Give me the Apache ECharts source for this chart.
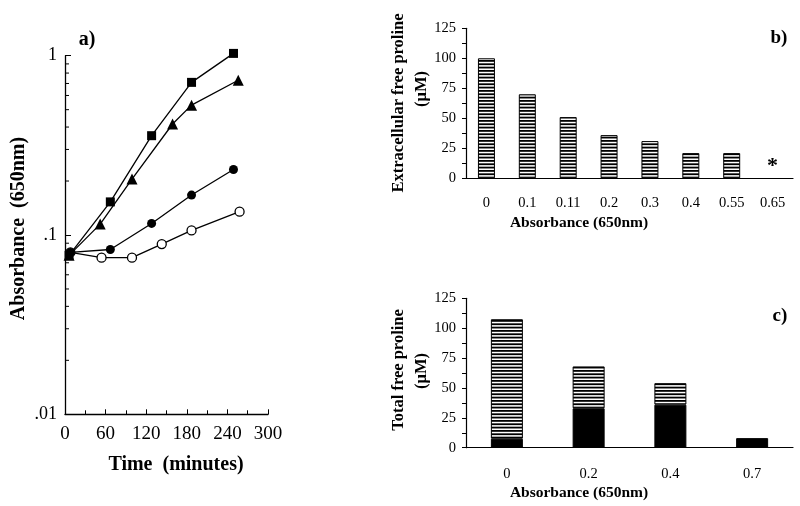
<!DOCTYPE html>
<html><head><meta charset="utf-8">
<script src="https://cdn.jsdelivr.net/npm/echarts@6/dist/echarts.min.js"></script>
<style>html,body{margin:0;padding:0;background:#fff}#c{width:800px;height:506px}</style>
</head><body><div id="c"></div>
<script>
// Panel a) growth curves (time in minutes, absorbance 650nm)
const squareTime = [6, 67, 128, 187, 249];
const squareVals = [0.077, 0.153, 0.358, 0.71, 1.03];
const triangleTime = [6, 52, 99, 159, 187, 256];
const triangleVals = [0.077, 0.115, 0.205, 0.416, 0.53, 0.73];
const dotTime = [8, 67, 128, 187, 249];
const dotVals = [0.08, 0.083, 0.116, 0.167, 0.232];
const openTime = [8, 54, 99, 143, 187, 258];
const openVals = [0.08, 0.0747, 0.0747, 0.089, 0.106, 0.135];
const logMinorTicks = [0.02,0.03,0.04,0.05,0.06,0.07,0.08,0.09,0.2,0.3,0.4,0.5,0.6,0.7,0.8,0.9];

// Panel b) extracellular free proline
const bCats = ['0','0.1','0.11','0.2','0.3','0.4','0.55','0.65'];
const bVals = [100, 70, 51, 36, 31, 21, 21, 0];

// Panel c) total free proline (solid + striped stack)
const cCats = ['0','0.2','0.4','0.7'];
const cSolid = [7.5, 33, 36, 8];
const cStriped = [100, 35, 18, 0];

const FONT = 'Liberation Serif';

function stripes(){
  const cv = document.createElement('canvas');
  cv.width = 8; cv.height = 10;
  const g = cv.getContext('2d');
  g.fillStyle = '#fff'; g.fillRect(0,0,8,10);
  g.fillStyle = '#000';
  g.fillRect(0,0,8,1.8);
  g.fillRect(0,3.33,8,1.8);
  g.fillRect(0,6.67,8,1.8);
  return {image: cv, repeat: 'repeat'};
}
const pat = stripes();

const zip = (a,b) => a.map((x,i)=>[x,b[i]]);
const lineStyle = {color:'#000', width:1.3};

const chart = echarts.init(document.getElementById('c'), null, {renderer:'canvas'});
chart.setOption({
  animation:false,
  backgroundColor:'#fff',
  textStyle:{fontFamily:FONT, color:'#000'},
  grid:[
    {left:65, top:55.7, width:203, height:358.6},
    {left:466, top:28.3, width:327, height:150},
    {left:466, top:298.3, width:327, height:149.4}
  ],
  xAxis:[
    {gridIndex:0, type:'value', min:0, max:300, interval:60,
     axisLine:{lineStyle:{color:'#000', width:1.3}},
     axisTick:{inside:true, length:5, lineStyle:{color:'#000'}},
     minorTick:{show:true, splitNumber:2, length:4, lineStyle:{color:'#000'}},
     splitLine:{show:false}, minorSplitLine:{show:false},
     axisLabel:{color:'#000', fontFamily:FONT, fontSize:19, margin:10}},
    {gridIndex:1, type:'category', data:bCats,
     axisLine:{lineStyle:{color:'#000', width:1.2}},
     axisTick:{length:4, lineStyle:{color:'#000'}},
     axisLabel:{color:'#000', fontFamily:FONT, fontSize:14.5, margin:17}},
    {gridIndex:2, type:'category', data:cCats,
     axisLine:{lineStyle:{color:'#000', width:1.2}},
     axisTick:{length:4, lineStyle:{color:'#000'}},
     axisLabel:{color:'#000', fontFamily:FONT, fontSize:14.5, margin:19}}
  ],
  yAxis:[
    {gridIndex:0, type:'log', min:0.01, max:1, logBase:10,
     axisLine:{show:true, lineStyle:{color:'#000', width:1.3}},
     axisTick:{show:true, inside:true, length:6, lineStyle:{color:'#000'}},
     splitLine:{show:false},
     axisLabel:{color:'#000', fontFamily:FONT, fontSize:18, margin:8,
       formatter:v=>{const e=Math.round(Math.log10(v)); return e===0?'1':(e===-1?'.1':'.01');}}},
    {gridIndex:1, type:'value', min:0, max:125, interval:25,
     axisLine:{show:true, lineStyle:{color:'#000', width:1.2}},
     axisTick:{show:true, length:4, lineStyle:{color:'#000'}},
     minorTick:{show:true, splitNumber:2, length:4, lineStyle:{color:'#000'}},
     splitLine:{show:false}, minorSplitLine:{show:false},
     axisLabel:{color:'#000', fontFamily:FONT, fontSize:14.5, margin:10}},
    {gridIndex:2, type:'value', min:0, max:125, interval:25,
     axisLine:{show:true, lineStyle:{color:'#000', width:1.2}},
     axisTick:{show:true, length:4, lineStyle:{color:'#000'}},
     minorTick:{show:true, splitNumber:2, length:4, lineStyle:{color:'#000'}},
     splitLine:{show:false}, minorSplitLine:{show:false},
     axisLabel:{color:'#000', fontFamily:FONT, fontSize:14.5, margin:10}}
  ],
  series:[
    {type:'line', xAxisIndex:0, yAxisIndex:0, data:zip(openTime,openVals), clip:false,
     symbol:'circle', symbolSize:9, lineStyle, itemStyle:{color:'#fff', borderColor:'#000', borderWidth:1.3}, z:3},
    {type:'line', xAxisIndex:0, yAxisIndex:0, data:zip(dotTime,dotVals), clip:false,
     symbol:'circle', symbolSize:9, lineStyle, itemStyle:{color:'#000'}, z:3},
    {type:'line', xAxisIndex:0, yAxisIndex:0, data:zip(triangleTime,triangleVals), clip:false,
     symbol:'triangle', symbolSize:11, lineStyle, itemStyle:{color:'#000'}, z:4},
    {type:'line', xAxisIndex:0, yAxisIndex:0, data:zip(squareTime,squareVals), clip:false,
     symbol:'rect', symbolSize:9, lineStyle, itemStyle:{color:'#000'}, z:5},
    {type:'custom', xAxisIndex:0, yAxisIndex:0, silent:true, clip:false,
     data:logMinorTicks.map(v=>[0,v]),
     renderItem:(params, api)=>{
       const p = api.coord([0, api.value(1)]);
       return {type:'line', shape:{x1:p[0], y1:p[1], x2:p[0]+4, y2:p[1]},
               style:{stroke:'#000', lineWidth:1}};
     }},
    {type:'bar', xAxisIndex:1, yAxisIndex:1, barWidth:17,
     data:bVals.map((v,i)=> v===0 ? {value:0, itemStyle:{borderWidth:0},
        label:{show:true, position:'top', distance:1, formatter:'*', fontSize:22, fontWeight:'bold', fontFamily:FONT, color:'#000'}} : v),
     itemStyle:{color:pat, borderColor:'#000', borderWidth:1}},
    {type:'bar', xAxisIndex:2, yAxisIndex:2, barWidth:32, stack:'c',
     data:cSolid, itemStyle:{color:'#000', borderColor:'#000', borderWidth:1}},
    {type:'bar', xAxisIndex:2, yAxisIndex:2, barWidth:32, stack:'c',
     data:cStriped.map(v=> v===0 ? {value:0, itemStyle:{borderWidth:0}} : v),
     itemStyle:{color:pat, borderColor:'#000', borderWidth:1}}
  ],
  graphic:[
    {type:'text', x:87, y:40, style:{text:'a)', font:'bold 20px "Liberation Serif"', fill:'#000', align:'center', verticalAlign:'middle'}},
    {type:'text', x:779, y:38.5, style:{text:'b)', font:'bold 19px "Liberation Serif"', fill:'#000', align:'center', verticalAlign:'middle'}},
    {type:'text', x:780, y:316.5, style:{text:'c)', font:'bold 19px "Liberation Serif"', fill:'#000', align:'center', verticalAlign:'middle'}},
    {type:'text', x:176, y:465, style:{text:'Time  (minutes)', font:'bold 20px "Liberation Serif"', fill:'#000', align:'center', verticalAlign:'middle'}},
    {type:'text', x:19, y:228.5, rotation:Math.PI/2, style:{text:'Absorbance  (650nm)', font:'bold 20px "Liberation Serif"', fill:'#000', align:'center', verticalAlign:'middle'}},
    {type:'text', x:579, y:222.7, style:{text:'Absorbance (650nm)', font:'bold 15.5px "Liberation Serif"', fill:'#000', align:'center', verticalAlign:'middle'}},
    {type:'text', x:579, y:492.7, style:{text:'Absorbance (650nm)', font:'bold 15.5px "Liberation Serif"', fill:'#000', align:'center', verticalAlign:'middle'}},
    {type:'text', x:399, y:103, rotation:Math.PI/2, style:{text:'Extracellular free proline', font:'bold 16.5px "Liberation Serif"', fill:'#000', align:'center', verticalAlign:'middle'}},
    {type:'text', x:422, y:89, rotation:Math.PI/2, style:{text:'(μM)', font:'bold 16.5px "Liberation Serif"', fill:'#000', align:'center', verticalAlign:'middle'}},
    {type:'text', x:399, y:370, rotation:Math.PI/2, style:{text:'Total free proline', font:'bold 16.5px "Liberation Serif"', fill:'#000', align:'center', verticalAlign:'middle'}},
    {type:'text', x:422, y:371, rotation:Math.PI/2, style:{text:'(μM)', font:'bold 16.5px "Liberation Serif"', fill:'#000', align:'center', verticalAlign:'middle'}}
  ]
});
</script></body></html>
